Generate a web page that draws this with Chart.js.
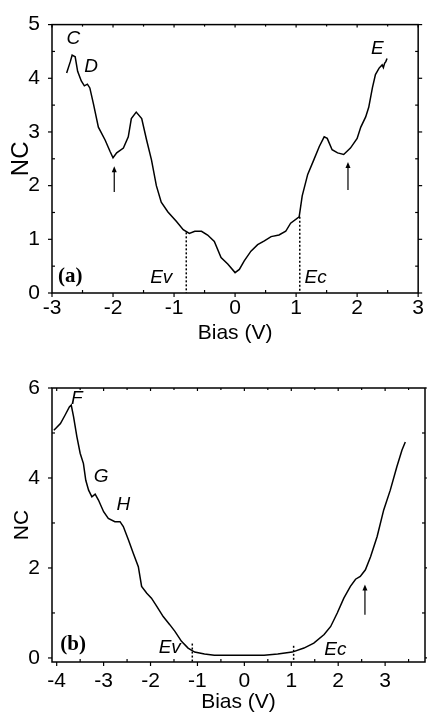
<!DOCTYPE html>
<html>
<head>
<meta charset="utf-8">
<script src="https://cdn.jsdelivr.net/npm/chart.js@4.4.0/dist/chart.umd.min.js"></script>
<style>
  html, body { margin: 0; padding: 0; background: #fff; }
  .panel { position: absolute; left: 0; }
</style>
</head>
<body>
<canvas id="chartA" class="panel" width="427" height="346" style="top:0"></canvas>
<canvas id="chartB" class="panel" width="427" height="375" style="top:340px"></canvas>
<script>
// ---- panel (a) data ----
const biasA = [-2.76, -2.70, -2.67, -2.62, -2.58, -2.52, -2.47, -2.42, -2.38, -2.32, -2.24, -2.13, -2.05, -2.00,
  -1.94, -1.83, -1.75, -1.70, -1.62, -1.53, -1.45, -1.37, -1.29, -1.21, -1.10, -0.96, -0.85, -0.75, -0.66,
  -0.55, -0.45, -0.34, -0.23, -0.12, 0.00, 0.07, 0.15, 0.26, 0.37, 0.48, 0.59, 0.72, 0.83, 0.91, 1.05,
  1.10, 1.19, 1.29, 1.38, 1.46, 1.51, 1.59, 1.68, 1.78, 1.89, 2.00, 2.06, 2.14, 2.19, 2.25, 2.30, 2.36,
  2.41, 2.43, 2.45, 2.47, 2.49];
const ncA = [4.10, 4.31, 4.43, 4.40, 4.13, 3.95, 3.86, 3.89, 3.82, 3.52, 3.09, 2.85, 2.64, 2.52,
  2.61, 2.70, 2.91, 3.25, 3.37, 3.25, 2.85, 2.48, 2.00, 1.69, 1.51, 1.33, 1.18, 1.11, 1.15,
  1.15, 1.08, 0.96, 0.66, 0.54, 0.38, 0.44, 0.60, 0.78, 0.90, 0.97, 1.05, 1.08, 1.15, 1.30, 1.42,
  1.81, 2.21, 2.48, 2.73, 2.91, 2.88, 2.67, 2.61, 2.58, 2.70, 2.88, 3.09, 3.28, 3.46, 3.82, 4.07, 4.19,
  4.25, 4.20, 4.28, 4.31, 4.37];
const xTicksA = [-3, -2, -1, 0, 1, 2, 3];
const yTicksA = [0, 1, 2, 3, 4, 5];
const edgesA = [{ x: -0.80, top: 1.13, label: 'Ev', lx: -1.21, ly: 0.29 },
                { x: 1.06, top: 1.42, label: 'Ec', lx: 1.32, ly: 0.29 }];
const arrowsA = [{ x: -1.98, tip: 2.36, tail: 1.88 }, { x: 1.85, tip: 2.44, tail: 1.92 }];
const peaksA = [{ t: 'C', x: -2.65, y: 4.74 }, { t: 'D', x: -2.36, y: 4.22 }, { t: 'E', x: 2.33, y: 4.56 }];

// ---- panel (b) data ----
const biasB = [-4.06, -3.92, -3.82, -3.73, -3.69, -3.64, -3.57, -3.50, -3.43, -3.38, -3.32, -3.25, -3.18,
  -3.11, -3.00, -2.90, -2.76, -2.65, -2.58, -2.47, -2.37, -2.26, -2.19, -2.08, -1.98, -1.87, -1.73, -1.59,
  -1.48, -1.34, -1.20, -1.06, -0.85, -0.64, -0.28, 0.07, 0.42, 0.71, 1.02, 1.27, 1.48, 1.70, 1.84, 1.98,
  2.12, 2.26, 2.37, 2.47, 2.58, 2.69, 2.83, 2.97, 3.11, 3.25, 3.36, 3.43];
const ncB = [5.06, 5.21, 5.40, 5.58, 5.62, 5.36, 4.92, 4.55, 4.32, 3.95, 3.73, 3.58, 3.64,
  3.51, 3.25, 3.10, 3.03, 3.03, 2.92, 2.62, 2.33, 2.03, 1.59, 1.44, 1.33, 1.15, 0.92, 0.74,
  0.59, 0.37, 0.22, 0.13, 0.09, 0.06, 0.06, 0.06, 0.06, 0.09, 0.13, 0.22, 0.33, 0.52, 0.70, 1.00,
  1.33, 1.59, 1.75, 1.81, 1.96, 2.25, 2.70, 3.29, 3.73, 4.25, 4.62, 4.80];
const xTicksB = [-4, -3, -2, -1, 0, 1, 2, 3];
const yTicksB = [0, 2, 4, 6];
const edgesB = [{ x: -1.11, top: 0.32, label: 'Ev', lx: -1.59, ly: 0.22 },
                { x: 1.05, top: 0.27, label: 'Ec', lx: 1.94, ly: 0.18 }];
const arrowsB = [{ x: 2.57, tip: 1.63, tail: 0.96 }];
const peaksB = [{ t: 'F', x: -3.57, y: 5.76 }, { t: 'G', x: -3.05, y: 4.03 }, { t: 'H', x: -2.58, y: 3.40 }];

const FONT = 'Liberation Sans, Arial, sans-serif';
const NARROW = 'Liberation Sans Narrow, Arial Narrow, Liberation Sans, sans-serif';

// frame, ticks (major out, minor in), dashed band edges, arrows and text notes
const decorations = {
    id: 'decorations',
    afterDatasetsDraw(chart, args, o) {
        const ctx = chart.ctx;
        const a = chart.chartArea;
        const xs = chart.scales.x, ys = chart.scales.y;
        ctx.save();
        ctx.strokeStyle = '#000';
        ctx.fillStyle = '#000';

        // dotted lines at the band edges
        ctx.lineWidth = 1.5;
        ctx.setLineDash([2, 2]);
        o.edges.forEach(e => {
            const px = xs.getPixelForValue(e.x);
            ctx.beginPath();
            ctx.moveTo(px, ys.getPixelForValue(e.top));
            ctx.lineTo(px, a.bottom);
            ctx.stroke();
        });
        ctx.setLineDash([]);

        // arrows
        ctx.lineWidth = 1.2;
        o.arrows.forEach(r => {
            const px = xs.getPixelForValue(r.x);
            const tip = ys.getPixelForValue(r.tip);
            ctx.beginPath();
            ctx.moveTo(px, ys.getPixelForValue(r.tail));
            ctx.lineTo(px, tip + 4);
            ctx.stroke();
            ctx.beginPath();
            ctx.moveTo(px, tip);
            ctx.lineTo(px - 2.5, tip + 6);
            ctx.lineTo(px + 2.5, tip + 6);
            ctx.closePath();
            ctx.fill();
        });

        // frame
        ctx.lineWidth = 1.5;
        ctx.strokeRect(a.left, a.top, a.right - a.left, a.bottom - a.top);

        // ticks
        ctx.lineWidth = 1.2;
        const tick = (x1, y1, x2, y2) => { ctx.beginPath(); ctx.moveTo(x1, y1); ctx.lineTo(x2, y2); ctx.stroke(); };
        o.xMajor.forEach(v => {
            const px = xs.getPixelForValue(v);
            tick(px, a.bottom, px, a.bottom + 4);
            tick(px, a.top, px, a.top + 3);
        });
        o.xMinor.forEach(v => {
            const px = xs.getPixelForValue(v);
            tick(px, a.bottom, px, a.bottom - 3);
            tick(px, a.top, px, a.top + 2);
        });
        o.yMajor.forEach(v => {
            const py = ys.getPixelForValue(v);
            tick(a.left, py, a.left - 4, py);
            tick(a.right, py, a.right + 4, py);
        });
        o.yMinor.forEach(v => {
            const py = ys.getPixelForValue(v);
            tick(a.left, py, a.left + 3, py);
            tick(a.right, py, a.right - 3, py);
        });

        // notes
        ctx.textAlign = 'center';
        ctx.textBaseline = 'middle';
        ctx.font = 'italic 19px ' + FONT;
        o.peaks.forEach(p => ctx.fillText(p.t, xs.getPixelForValue(p.x), ys.getPixelForValue(p.y)));
        o.edges.forEach(e => ctx.fillText(e.label, xs.getPixelForValue(e.lx), ys.getPixelForValue(e.ly)));
        ctx.font = 'bold 21px Liberation Serif, Times New Roman, serif';
        ctx.fillText(o.tag.t, xs.getPixelForValue(o.tag.x), ys.getPixelForValue(o.tag.y));
        ctx.restore();
    }
};

function halfSteps(major, lo, hi, step) {
    const out = [];
    for (let i = 0; i < major.length; i++) {
        const v = major[i] + step;
        if (v > lo && v < hi && !major.includes(v)) out.push(v);
        if (i === 0 && major[0] - step > lo) out.push(major[0] - step);
    }
    return out;
}

function makePanel(id, bias, nc, cfg) {
    const pts = bias.map((b, i) => ({ x: b, y: nc[i] }));
    return new Chart(document.getElementById(id), {
        type: 'scatter',
        data: {
            datasets: [{
                data: pts,
                showLine: true,
                borderColor: '#000',
                borderWidth: 1.5,
                pointRadius: 0,
                tension: 0
            }]
        },
        options: {
            responsive: false,
            animation: false,
            layout: { padding: cfg.padding },
            plugins: {
                legend: { display: false },
                tooltip: { enabled: false },
                decorations: {
                    xMajor: cfg.xTicks, yMajor: cfg.yTicks,
                    xMinor: halfSteps(cfg.xTicks, cfg.xMin, cfg.xMax, 0.5),
                    yMinor: halfSteps(cfg.yTicks, cfg.yMin, cfg.yMax, cfg.yStep / 2),
                    edges: cfg.edges, arrows: cfg.arrows, peaks: cfg.peaks, tag: cfg.tag
                }
            },
            scales: {
                x: {
                    type: 'linear', min: cfg.xMin, max: cfg.xMax,
                    afterBuildTicks: s => { s.ticks = cfg.xTicks.map(v => ({ value: v })); },
                    afterFit: s => { s.height = cfg.xAxisH; },
                    grid: { display: false, drawTicks: false },
                    border: { display: false },
                    ticks: { color: '#000', padding: cfg.xPad, font: { family: NARROW, size: 21 } },
                    title: { display: true, text: 'Bias (V)', color: '#000', padding: 0,
                             font: { family: FONT, size: 21 } }
                },
                y: {
                    min: cfg.yMin, max: cfg.yMax,
                    afterBuildTicks: s => { s.ticks = cfg.yTicks.map(v => ({ value: v })); },
                    afterFit: s => { s.width = 52; },
                    grid: { display: false, drawTicks: false },
                    border: { display: false },
                    ticks: { color: '#000', padding: 12, font: { family: NARROW, size: 21 } },
                    title: { display: true, text: 'NC', color: '#000', padding: { top: cfg.ncPad, bottom: 0 },
                             font: { family: FONT, size: cfg.ncSize } }
                }
            }
        },
        plugins: [decorations]
    });
}

makePanel('chartA', biasA, ncA, {
    xMin: -3, xMax: 3, yMin: 0, yMax: 5, yStep: 1,
    xTicks: xTicksA, yTicks: yTicksA,
    padding: { top: 19, right: 8, left: 0, bottom: 0 }, xAxisH: 53, xPad: 3,
    ncSize: 24, ncPad: 7,
    edges: edgesA, arrows: arrowsA, peaks: peaksA, tag: { t: '(a)', x: -2.7, y: 0.30 }
});

makePanel('chartB', biasB, ncB, {
    xMin: -4.1, xMax: 3.85, yMin: -0.09, yMax: 6, yStep: 2,
    xTicks: xTicksB, yTicks: yTicksB,
    padding: { top: 48, right: 2, left: 0, bottom: 0 }, xAxisH: 53, xPad: 7,
    ncSize: 21, ncPad: 10,
    edges: edgesB, arrows: arrowsB, peaks: peaksB, tag: { t: '(b)', x: -3.65, y: 0.30 }
});
</script>
</body>
</html>
